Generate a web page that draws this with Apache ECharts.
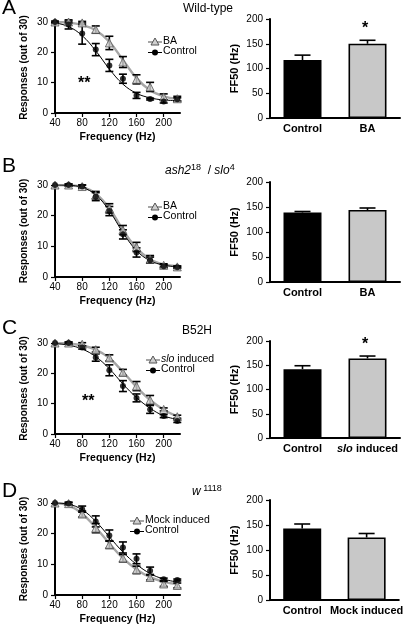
<!DOCTYPE html>
<html><head><meta charset="utf-8">
<script src="https://cdn.jsdelivr.net/npm/echarts@6/dist/echarts.min.js"></script>
<style>html,body{margin:0;padding:0;background:#fff}#c{width:406px;height:626px}</style>
</head><body><div id="c"></div><script>
const FONT = 'Liberation Sans, Arial, Helvetica, sans-serif';
const freq = [40, 60, 80, 100, 120, 140, 160, 180, 200, 220];

// Panel A - Wild-type
const aControl    = [30, 29.2, 26.2, 20.9, 15.7, 11.3, 5.8, 4.6, 3.8, 4.5];
const aControlErr = [0.3, 1.5, 3.5, 2, 2, 1.5, 1, 0.3, 0.5, 0.5];
const aTreat      = [30, 30, 29.7, 27.5, 23.1, 16.8, 11.1, 8.6, 5.3, 4.7];
const aTreatErr   = [0, 0.3, 0.5, 1.2, 2.2, 1.8, 1.5, 1.5, 1, 0.8];
const aControlFit = [29.7, 28.5, 25.5, 20.5, 14.5, 9.5, 6.5, 5, 4.3, 4.1];
const aTreatFit   = [30, 29.8, 29, 27.3, 23.5, 17.5, 11.5, 7.5, 5.5, 4.7];

// Panel B - ash2^18 / slo^4
const bControl    = [30, 30, 29.5, 26.2, 21.5, 13.9, 8, 5.5, 3.5, 3.2];
const bControlErr = [0, 0.3, 0.5, 1.3, 1.5, 1.5, 1.5, 1, 0.5, 0.3];
const bTreat      = [30, 30, 29.5, 26.7, 22.4, 15.3, 9.8, 5.8, 3.8, 3.3];
const bTreatErr   = [0, 0.3, 0.5, 1.2, 1.5, 1.5, 1.5, 1.2, 0.5, 0.3];
const bControlFit = [30, 29.9, 29.2, 26.8, 21.6, 14.5, 8.6, 5.3, 3.9, 3.3];
const bTreatFit   = [30, 29.9, 29.4, 27.2, 22.4, 15.4, 9.4, 5.8, 4.1, 3.5];

// Panel C - B52H
const cControl    = [30, 30, 28.5, 25.2, 21, 15.8, 11.9, 8.1, 5.9, 4.3];
const cControlErr = [0, 0.3, 0.5, 1.2, 1.8, 1.8, 1.3, 1.3, 0.5, 0.5];
const cTreat      = [30, 30, 29.6, 27.8, 25.1, 20.3, 15.8, 11.2, 8.1, 5.7];
const cTreatErr   = [0, 0.3, 0.5, 0.8, 1, 1, 1.5, 1.5, 0.5, 0.5];
const cControlFit = [29.8, 29.3, 28, 25.5, 21.5, 16.5, 12, 8.5, 6, 4.8];
const cTreatFit   = [30, 29.8, 29.2, 27.8, 25, 20.5, 15.5, 11.2, 8, 5.8];

// Panel D - w^1118
const dControl    = [30, 29.8, 28, 24, 19.4, 15.5, 11.8, 7.9, 5.1, 4.9];
const dControlErr = [0, 0.5, 1, 1.8, 1.8, 1.8, 1.6, 1.2, 0.4, 0.3];
const dTreat      = [30, 29.8, 26.4, 21.8, 16.4, 12, 8.2, 5.7, 3.6, 3.1];
const dTreatErr   = [0, 0.3, 1, 1.5, 1.2, 1.2, 1.2, 0.8, 0.8, 0.8];
const dControlFit = [30, 29.6, 27.8, 24, 19, 14, 10, 7, 5.2, 4.2];
const dTreatFit   = [30, 29.2, 26.5, 22, 16.8, 12, 8.3, 5.8, 4.3, 3.6];

// FF50 bars
const barCatsA = ['Control', 'BA'];
const barCatsB = ['Control', 'BA'];
const barCatsC = ['Control', 'slo induced'];
const barCatsD = ['Control', 'Mock induced'];
const ffA = [117, 150]; const ffAErr = [10, 7];
const ffB = [139, 144]; const ffBErr = [2, 4];
const ffC = [142, 164]; const ffCErr = [7, 5];
const ffD = [143, 125]; const ffDErr = [9, 8];

const legendNames = [['BA', 'Control'], ['BA', 'Control'], ['slo induced', 'Control'], ['Mock induced', 'Control']];

const lineGrids = [
  {top: 22, height: 91}, {top: 185, height: 92}, {top: 343, height: 91}, {top: 503, height: 92}
];
const barGrids = [
  {top: 19, height: 99}, {top: 182, height: 100}, {top: 341, height: 97}, {top: 500, height: 100}
];

const panels = [
  {ctl: aControl, ctlE: aControlErr, tr: aTreat, trE: aTreatErr, ctlF: aControlFit, trF: aTreatFit, cats: barCatsA, ff: ffA, ffE: ffAErr},
  {ctl: bControl, ctlE: bControlErr, tr: bTreat, trE: bTreatErr, ctlF: bControlFit, trF: bTreatFit, cats: barCatsB, ff: ffB, ffE: ffBErr},
  {ctl: cControl, ctlE: cControlErr, tr: cTreat, trE: cTreatErr, ctlF: cControlFit, trF: cTreatFit, cats: barCatsC, ff: ffC, ffE: ffCErr},
  {ctl: dControl, ctlE: dControlErr, tr: dTreat, trE: dTreatErr, ctlF: dControlFit, trF: dTreatFit, cats: barCatsD, ff: ffD, ffE: ffDErr}
];

const grey = '#a6a6a6';
const triFill = '#cfcfcf';

function errRender(capW, upOnly) {
  return function (params, api) {
    const x = api.value(0), y = api.value(1), e = api.value(2);
    if (!e) return null;
    const lo = api.coord([x, upOnly ? y : y - e]);
    const hi = api.coord([x, y + e]);
    const st = {stroke: '#000', lineWidth: 1.6};
    const ch = [
      {type: 'line', shape: {x1: lo[0], y1: lo[1], x2: hi[0], y2: hi[1]}, style: st},
      {type: 'line', shape: {x1: hi[0] - capW, y1: hi[1], x2: hi[0] + capW, y2: hi[1]}, style: st}
    ];
    if (!upOnly) ch.push({type: 'line', shape: {x1: lo[0] - capW, y1: lo[1], x2: lo[0] + capW, y2: lo[1]}, style: st});
    return {type: 'group', children: ch};
  };
}

const grid = [], xAxis = [], yAxis = [], series = [];
const axisLine = {lineStyle: {color: '#000', width: 2}};
const lab = {color: '#000', fontFamily: FONT, fontSize: 10};
const tick = {show: true, length: 4, lineStyle: {color: '#000', width: 1.2}};

panels.forEach((p, k) => {
  grid.push({left: 55, width: 125, top: lineGrids[k].top, height: lineGrids[k].height});
  const gi = grid.length - 1;
  xAxis.push({gridIndex: gi, type: 'value', min: 40, max: 224, interval: 40,
    name: 'Frequency (Hz)', nameLocation: 'middle', nameGap: 19,
    nameTextStyle: {fontFamily: FONT, fontSize: 10.5, fontWeight: 'bold', color: '#000'},
    axisLine: axisLine, axisTick: tick,
    axisLabel: Object.assign({margin: 5, showMaxLabel: false}, lab), splitLine: {show: false}});
  yAxis.push({gridIndex: gi, type: 'value', min: 0, max: 30, interval: 10,
    name: 'Responses (out of 30)', nameLocation: 'middle', nameGap: 26,
    nameTextStyle: {fontFamily: FONT, fontSize: 10, fontWeight: 'bold', color: '#000'},
    axisLine: Object.assign({show: true}, axisLine), axisTick: tick,
    axisLabel: Object.assign({margin: 7}, lab), splitLine: {show: false}});
  const pair = (vals) => freq.map((f, i) => [f, vals[i]]);
  const trip = (vals, errs) => freq.map((f, i) => [f, vals[i], errs[i]]);
  series.push({type: 'line', xAxisIndex: gi, yAxisIndex: gi, data: pair(p.trF), smooth: 0.4, symbol: 'none',
    lineStyle: {color: grey, width: 2.4}, z: 2, silent: true});
  series.push({type: 'line', xAxisIndex: gi, yAxisIndex: gi, data: pair(p.ctlF), smooth: 0.4, symbol: 'none',
    lineStyle: {color: '#000', width: 1}, z: 3, silent: true});
  series.push({type: 'custom', xAxisIndex: gi, yAxisIndex: gi, data: trip(p.tr, p.trE), renderItem: errRender(4, false), z: 4});
  series.push({type: 'custom', xAxisIndex: gi, yAxisIndex: gi, data: trip(p.ctl, p.ctlE), renderItem: errRender(4, false), z: 4});
  series.push({type: 'scatter', xAxisIndex: gi, yAxisIndex: gi, data: pair(p.tr), symbol: 'triangle', symbolSize: 8,
    itemStyle: {color: triFill, borderColor: '#555', borderWidth: 1}, z: 5});
  series.push({type: 'scatter', xAxisIndex: gi, yAxisIndex: gi, data: pair(p.ctl), symbol: 'circle', symbolSize: 6,
    itemStyle: {color: '#000'}, z: 6});
});

panels.forEach((p, k) => {
  grid.push({left: 270, width: 130, top: barGrids[k].top, height: barGrids[k].height});
  const gi = grid.length - 1;
  xAxis.push({gridIndex: gi, type: 'category', data: p.cats,
    axisLine: axisLine, axisTick: {show: false},
    axisLabel: {color: '#000', fontFamily: FONT, fontSize: 11, fontWeight: 'bold', margin: 5, interval: 0,
      formatter: v => v.indexOf('slo ') === 0 ? '{it|slo}' + v.slice(3) : v,
      rich: {it: {fontStyle: 'italic', fontWeight: 'bold', fontFamily: FONT, fontSize: 11, color: '#000'}}}});
  yAxis.push({gridIndex: gi, type: 'value', min: 0, max: 200, interval: 50,
    name: 'FF50 (Hz)', nameLocation: 'middle', nameGap: 30,
    nameTextStyle: {fontFamily: FONT, fontSize: 11, fontWeight: 'bold', color: '#000'},
    axisLine: Object.assign({show: true}, axisLine), axisTick: tick,
    axisLabel: Object.assign({margin: 7}, lab), splitLine: {show: false}});
  series.push({type: 'bar', xAxisIndex: gi, yAxisIndex: gi, barWidth: 38,
    data: p.ff.map((v, i) => ({value: v, itemStyle: {color: i === 0 ? '#000' : '#c8c8c8', borderColor: '#000', borderWidth: 1.6}})), z: 2});
  series.push({type: 'custom', xAxisIndex: gi, yAxisIndex: gi, data: p.ff.map((v, i) => [i, v, p.ffE[i]]),
    renderItem: errRender(8, true), z: 1});
});

const T = (o) => Object.assign({type: 'text', silent: true}, o);
const graphic = [];
[['A', 9], ['B', 167], ['C', 329], ['D', 492]].forEach(([l, y]) => {
  graphic.push(T({left: 2, top: y - 11, style: {text: l, font: '21px ' + FONT, fill: '#000'}}));
});
graphic.push(T({left: 183, top: 3, style: {text: 'Wild-type', font: '12px ' + FONT, fill: '#000'}}));
graphic.push(T({left: 165, top: 163, style: {
  text: '{i|ash2}{s|18}{n|  / }{i|slo}{s|4}', rich: {
    i: {fontStyle: 'italic', fontFamily: FONT, fontSize: 12, fill: '#000'},
    n: {fontFamily: FONT, fontSize: 12, fill: '#000'},
    s: {fontFamily: FONT, fontSize: 9, fill: '#000', verticalAlign: 'top', padding: [0, 0, 6, 0]}}}}));
graphic.push(T({left: 182, top: 325, style: {text: 'B52H', font: '12px ' + FONT, fill: '#000'}}));
graphic.push(T({left: 192, top: 484, style: {
  text: '{i|w}{s| 1118}', rich: {
    i: {fontStyle: 'italic', fontFamily: FONT, fontSize: 12, fill: '#000'},
    s: {fontFamily: FONT, fontSize: 9, fill: '#000', verticalAlign: 'top', padding: [0, 0, 6, 0]}}}}));
graphic.push(T({left: 78, top: 76, style: {text: '**', font: 'bold 16px ' + FONT, fill: '#000'}}));
graphic.push(T({left: 82, top: 394, style: {text: '**', font: 'bold 16px ' + FONT, fill: '#000'}}));
graphic.push(T({left: 362, top: 21, style: {text: '*', font: 'bold 16px ' + FONT, fill: '#000'}}));
graphic.push(T({left: 362, top: 337, style: {text: '*', font: 'bold 16px ' + FONT, fill: '#000'}}));

const legendPos = [{x: 148, y: 42}, {x: 148, y: 207}, {x: 146, y: 360}, {x: 130, y: 521}];
legendPos.forEach((lp, k) => {
  const names = legendNames[k];
  const y1 = lp.y, y2 = lp.y + 10.5;
  graphic.push({type: 'line', silent: true, shape: {x1: lp.x, y1: y1, x2: lp.x + 14, y2: y1}, style: {stroke: grey, lineWidth: 2}});
  graphic.push({type: 'polygon', silent: true, shape: {points: [[lp.x + 7, y1 - 4], [lp.x + 3, y1 + 3], [lp.x + 11, y1 + 3]]},
    style: {fill: triFill, stroke: '#555', lineWidth: 1}});
  graphic.push({type: 'line', silent: true, shape: {x1: lp.x, y1: y2, x2: lp.x + 14, y2: y2}, style: {stroke: '#000', lineWidth: 1}});
  graphic.push({type: 'circle', silent: true, shape: {cx: lp.x + 7, cy: y2, r: 3}, style: {fill: '#000'}});
  const t1 = names[0].indexOf('slo ') === 0 ? '{it|slo}' + names[0].slice(3) : names[0];
  graphic.push(T({left: lp.x + 15, top: y1 - 6.5, style: {text: t1, font: '10.5px ' + FONT, fill: '#000',
    rich: {it: {fontStyle: 'italic', fontFamily: FONT, fontSize: 10.5, fill: '#000'}}}}));
  graphic.push(T({left: lp.x + 15, top: y2 - 6.5, style: {text: names[1], font: '10.5px ' + FONT, fill: '#000'}}));
});

const chart = echarts.init(document.getElementById('c'), null, {renderer: 'canvas'});
chart.setOption({animation: false, backgroundColor: '#fff', textStyle: {fontFamily: FONT},
  grid, xAxis, yAxis, series, graphic});
</script></body></html>
